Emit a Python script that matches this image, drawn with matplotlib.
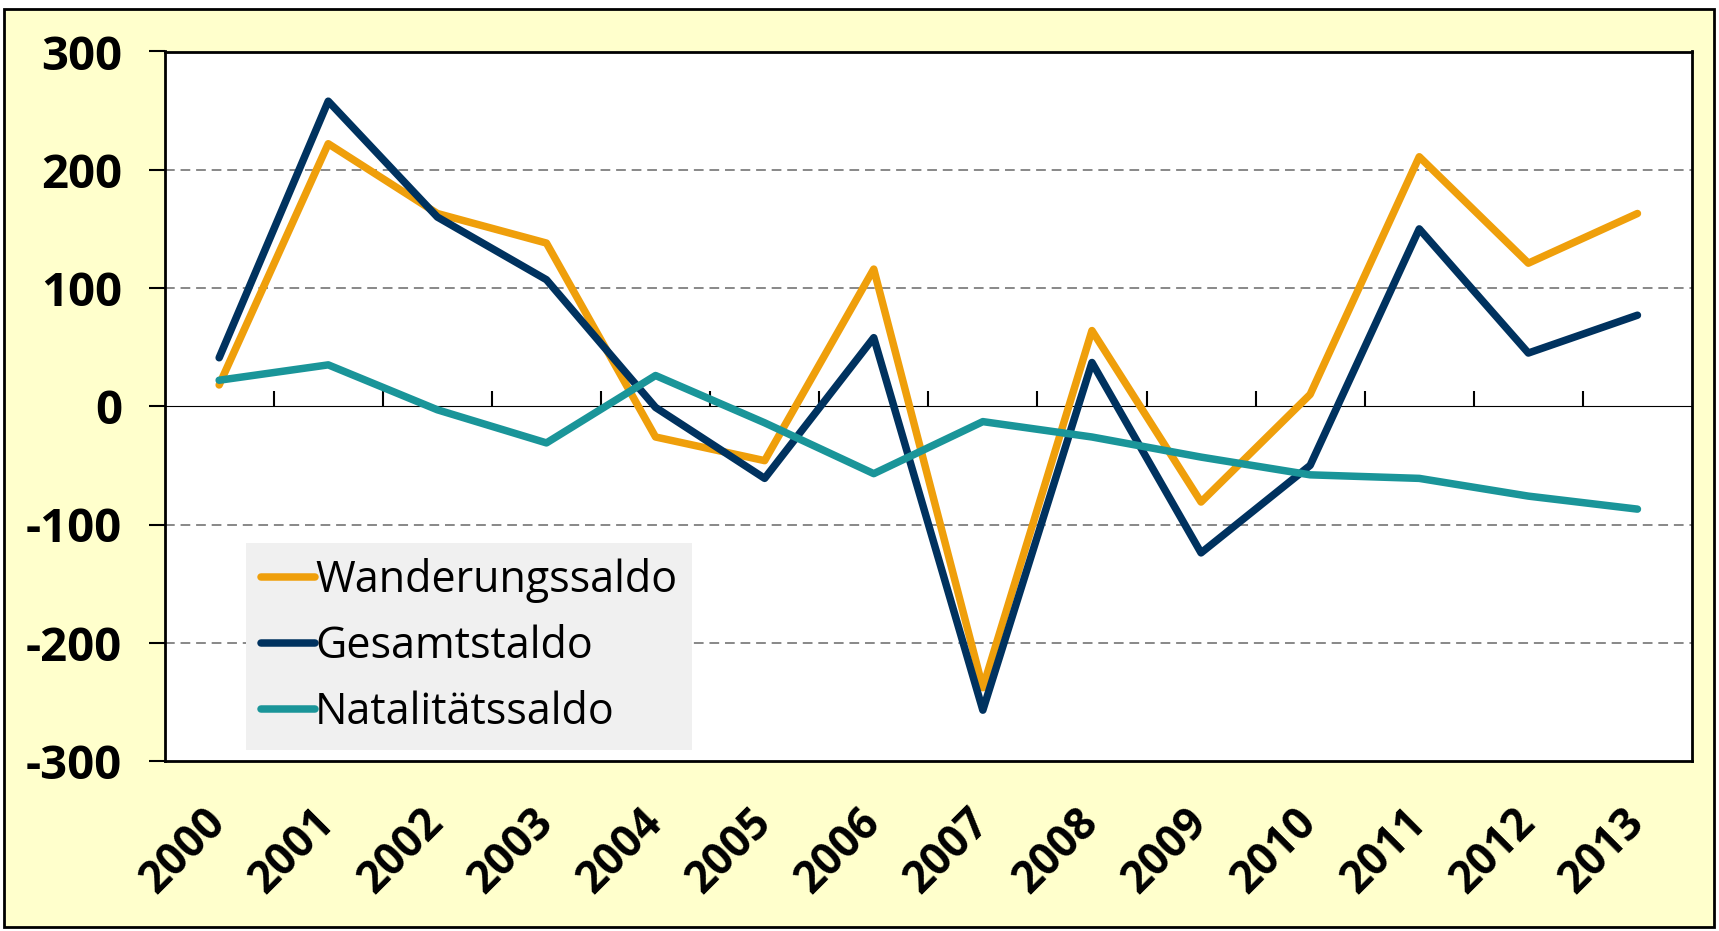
import numpy as np
import matplotlib
matplotlib.use("Agg")
import matplotlib.pyplot as plt
from matplotlib.patches import Rectangle

years = ['2000', '2001', '2002', '2003', '2004', '2005', '2006',
         '2007', '2008', '2009', '2010', '2011', '2012', '2013']
wanderung = [18, 222, 163, 138, -26, -46, 116, -238, 64, -81, 10, 211, 121, 163]
gesamt = [41, 258, 160, 107, -1, -61, 58, -257, 37, -124, -50, 150, 45, 77]
natalitaet = [22, 35, -3, -31, 26, -14, -57, -13, -26, -43, -58, -61, -76, -87]

labels = ['Wanderungssaldo', 'Gesamtstaldo', 'Natalitätssaldo']
colors = ['#EF9F0B', '#00325F', '#1A9599']

plt.rcParams['font.family'] = ['Open Sans', 'DejaVu Sans']

W, H = 1719, 931
fig = plt.figure(figsize=(W / 100, H / 100), dpi=100, facecolor='white')

# yellow frame behind the chart
frame = Rectangle((4 / W, 1 - 927 / H), 1710 / W, 918 / H,
                  transform=fig.transFigure, facecolor='#FFFFCC',
                  edgecolor='black', linewidth=2, zorder=-5)
fig.add_artist(frame)

ax = fig.add_axes([164.6 / W, 1 - 761 / H, (1692 - 164.6) / W, (761 - 51.5) / H])
ax.set_facecolor('white')

x = np.arange(len(years))
for vals, lab, col in zip([wanderung, gesamt, natalitaet], labels, colors):
    ax.plot(x, vals, color=col, lw=5.4, label=lab, solid_capstyle='round', zorder=3)

ax.set_xlim(-0.5, len(years) - 0.5)
ax.set_ylim(-300, 300)
ax.set_yticks([-300, -200, -100, 0, 100, 200, 300])
ax.set_yticklabels(['-300', '-200', '-100', '0', '100', '200', '300'],
                   fontsize=34, fontweight='bold')
ax.tick_params(axis='y', direction='out', length=11.5, width=1.5, pad=19)

for v in [-200, -100, 100, 200]:
    ax.axhline(v, color='#888888', lw=1.4, ls=(0, (5, 3)), zorder=1)

# category labels below the frame
ax.set_xticks(x)
ax.set_xticklabels(years, rotation=45, ha='right', va='center',
                   rotation_mode='anchor', fontsize=31.5, fontweight='bold')
ax.tick_params(axis='x', length=0, pad=40)

# zero line with boundary ticks
sec = ax.secondary_xaxis(0.5)
sec.set_xticks(np.arange(0.5, len(years) - 1, 1.0))
sec.set_xticklabels([])
sec.tick_params(direction='out', length=11, width=1.5)
sec.spines['bottom'].set_linewidth(2)

for s in ax.spines.values():
    s.set_linewidth(2)

leg = ax.legend(loc='lower left', bbox_to_anchor=(0.0533, 0.0155), borderaxespad=0,
                fontsize=31, frameon=True, fancybox=False, facecolor='#F0F0F0',
                edgecolor='none', framealpha=1, handlelength=1.25, handletextpad=0.0,
                labelspacing=0.5, borderpad=0.35)
leg.get_frame().set_linewidth(0)

fig.savefig('out.png', dpi=100, facecolor='white')
